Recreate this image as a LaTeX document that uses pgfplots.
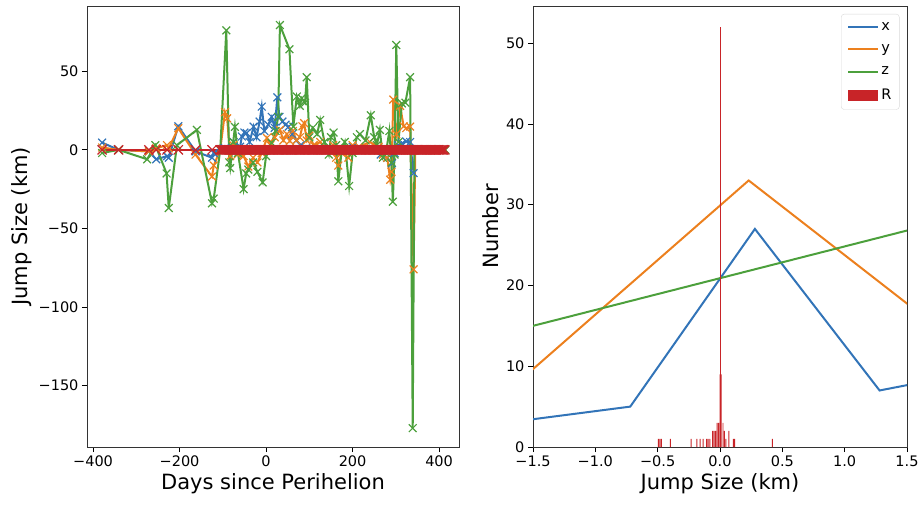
\documentclass[border=0pt]{standalone}
\usepackage{fontspec}
\setmainfont{DejaVu Sans}
\usepackage{pgfplots}
\pgfplotsset{compat=1.18}
\definecolor{cx}{RGB}{50,116,184}
\definecolor{cy}{RGB}{236,128,30}
\definecolor{cz}{RGB}{76,160,60}
\definecolor{cr}{RGB}{200,36,40}

\pgfplotsset{panel/.style={
  scale only axis, height=441pt,
  tick align=outside, tick pos=left, major tick length=5pt,
  every tick/.append style={line width=0.8pt, black},
  axis line style={line width=0.9pt, black!80},
  tick label style={font=\fontsize{14.5}{17}\selectfont},
  label style={font=\fontsize{21}{25}\selectfont},
  every axis plot/.append style={line width=2pt},
}}

\begin{document}
\begin{tikzpicture}
\useasboundingbox (-87pt,-60pt) rectangle (836pt,447pt);
% left panel: jumps against time
\begin{axis}[panel, width=372pt, at={(0,0)}, anchor=south west,
  xmin=-414, xmax=446, ymin=-189, ymax=91.5,
  xtick={-400,-200,0,200,400}, xticklabels={−400,−200,0,200,400},
  ytick={-150,-100,-50,0,50}, yticklabels={−150,−100,−50,0,50},
  xlabel={Days since Perihelion}, ylabel={Jump Size (km)},
  mark options={solid, line width=1.2pt}]
\addplot[cx, mark=x, mark size=5.5pt] coordinates {
 (-379,4.6) (-341,0) (-271,-1) (-254,-6) (-229,-4) (-225,-5) (-203,15) (-163,-1)
 (-125,-5) (-121,-2) (-106,0) (-95,1) (-85,0) (-75,5) (-66,0) (-60,2) (-56,8.5)
 (-50,11) (-45,10.6) (-38,5) (-29,14.8) (-22,8) (-15,18) (-10,27.5) (-4,12) (5,16)
 (13,21) (20,14) (26,33.4) (31,21) (38,18) (45,16) (52,14.8) (60,10) (70,6) (80,3)
 (92,1) (105,0) (150,0) (200,2) (240,0) (265,-3) (280,-5) (291,-8.5) (297,-2)
 (305,3) (314,4) (324,5.3) (333,5) (341,-14.8) (345,0) (414,0)};
\addplot[cy, mark=x, mark size=5.5pt] coordinates {
 (-379,1.5) (-341,0) (-271,-1) (-254,1) (-229,3) (-225,1) (-203,13.8) (-163,-3)
 (-125,-17) (-121,-10) (-106,0) (-95,24) (-90,20) (-83,-4) (-76,3) (-66,-3) (-52,-4)
 (-41,-10.6) (-30,-5) (-20,-8) (-10,-2) (2,7.6) (10,3) (20,8) (32,12.7) (40,6)
 (48,10) (55,5.7) (62,12) (70,6) (78,8) (84,15) (88,17) (94,6) (100,9) (110,3)
 (125,5) (140,0) (155,3) (162,-5) (167,-10) (175,-2) (190,-5) (200,3) (215,2)
 (240,5) (260,2) (270,-3) (280,-5) (287,-19) (290,-14) (294,32) (301,10) (310,28)
 (318,15) (324,13.8) (333,14.8) (341,-76) (345,0) (414,0)};
\addplot[cz, mark=x, mark size=5.5pt] coordinates {
 (-379,-2) (-341,0) (-275,-6) (-256,3) (-230,-15) (-225,-37) (-206,3) (-160,12.7)
 (-125,-34) (-121,-31) (-106,0) (-92,76) (-85,-8) (-83,-11.6) (-76,5) (-72,14.6)
 (-65,-2) (-52,-25) (-46,-15) (-41,-12.5) (-30,-8) (-20,-14) (-8,-20.7) (0,-4)
 (13,4.4) (22,12) (28,21) (32,79.4) (54,64) (63,14.8) (71,33.9) (78,28) (82.5,32.8)
 (90,30) (94,46.2) (100,8) (108,14) (118,10) (125,19) (135,5) (145,-3) (150,8)
 (156,11) (162,3) (167,-20) (175,0) (182,5) (192,-23) (200,-2) (210,8) (217,10)
 (230,6) (242,22) (250,8) (256,3) (263,12.7) (270,-5) (277,-2) (285,12) (290,-8)
 (293,-33) (297,-3) (301,66.7) (306,5) (314,29.6) (322,30) (333,46.2) (339,-177)
 (343,0) (414,0)};
\addplot[cr, mark=x, mark size=6.5pt] coordinates {
 (-379,0) (-341,0) (-271,0) (-254,0) (-229,0) (-203,0) (-163,0) (-125,0)
 (-106,0) (-103,0) (-100,0) (-97,0) (-94,0) (-91,0) (-88,0) (-85,0) (-82,0) (-79,0)
 (-76,0) (-73,0) (-70,0) (-67,0) (-64,0) (-61,0) (-58,0) (-55,0) (-52,0) (-49,0)
 (-46,0) (-43,0) (-40,0) (-37,0) (-34,0) (-31,0) (-28,0) (-25,0) (-22,0) (-19,0)
 (-16,0) (-13,0) (-10,0) (-7,0) (-4,0) (-1,0) (2,0) (5,0) (8,0) (11,0) (14,0)
 (17,0) (20,0) (23,0) (26,0) (29,0) (32,0) (35,0) (38,0) (41,0) (44,0) (47,0)
 (50,0) (53,0) (56,0) (59,0) (62,0) (65,0) (68,0) (71,0) (74,0) (77,0) (80,0)
 (83,0) (86,0) (89,0) (92,0) (95,0) (98,0) (101,0) (104,0) (107,0) (110,0) (113,0)
 (116,0) (119,0) (122,0) (125,0) (128,0) (131,0) (134,0) (137,0) (140,0) (143,0)
 (146,0) (149,0) (152,0) (155,0) (158,0) (161,0) (164,0) (167,0) (170,0) (173,0)
 (176,0) (179,0) (182,0) (185,0) (188,0) (191,0) (194,0) (197,0) (200,0) (203,0)
 (206,0) (209,0) (212,0) (215,0) (218,0) (221,0) (224,0) (227,0) (230,0) (233,0)
 (236,0) (239,0) (242,0) (245,0) (248,0) (251,0) (254,0) (257,0) (260,0) (263,0)
 (266,0) (269,0) (272,0) (275,0) (278,0) (281,0) (284,0) (287,0) (290,0) (293,0)
 (296,0) (299,0) (302,0) (305,0) (308,0) (311,0) (314,0) (317,0) (320,0) (323,0)
 (326,0) (329,0) (332,0) (335,0) (338,0) (341,0) (344,0) (347,0) (350,0) (353,0)
 (356,0) (359,0) (362,0) (365,0) (368,0) (371,0) (374,0) (377,0) (380,0) (383,0)
 (386,0) (389,0) (392,0) (395,0) (398,0) (401,0) (404,0) (407,0) (410,0) (413,0)};
\end{axis}
% right panel: histograms of jump sizes
\begin{axis}[panel, width=374pt, at={(446pt,0)}, anchor=south west,
  xmin=-1.5, xmax=1.5, ymin=0, ymax=54.6,
  xtick={-1.5,-1,-0.5,0,0.5,1,1.5},
  xticklabels={−1.5,−1.0,−0.5,0.0,0.5,1.0,1.5},
  ytick={0,10,20,30,40,50}, yticklabels={0,10,20,30,40,50},
  xlabel={Jump Size (km)}, ylabel={Number},
  legend entries={x,y,z,R},
  legend cell align=left,
  legend image code/.code={\path[draw=none, fill=none] (0pt,-5.5pt) rectangle (30pt,5.5pt);
    \draw[#1, sharp corners] (0pt,0pt) -- (30pt,0pt);},
  legend style={at={(0.98,0.982)}, anchor=north east, draw=black!15,
    rounded corners=3pt, font=\fontsize{14.5}{17}\selectfont,
    row sep=9pt, inner xsep=6pt, inner ysep=6pt}]
\addplot[cx] coordinates {(-1.72,3) (-0.72,5) (0.28,27) (1.28,7) (2.28,10)};
\addplot[cy] coordinates {(-1.77,6) (0.23,33) (2.23,9)};
\addplot[cz] coordinates {(-1.5,15) (1.5,26.8)};
\addplot[ybar, bar width=0.008, bar shift=0pt, fill=cr, draw=none,
  legend image code/.code={\fill[cr, sharp corners] (0pt,-5.5pt) rectangle (30pt,5.5pt);}]
 coordinates {
 (-0.495,1) (-0.483,1) (-0.471,1) (-0.398,1) (-0.232,1) (-0.185,1) (-0.160,1)
 (-0.135,1) (-0.108,1) (-0.096,1) (-0.082,1) (-0.060,2) (-0.048,2) (-0.036,2)
 (-0.024,3) (-0.012,3) (0.000,9) (0.008,9) (0.024,3) (0.036,2) (0.048,1)
 (0.072,2) (0.108,1) (0.118,1) (0.420,1)};
\addplot[ybar, bar width=0.006, bar shift=0pt, fill=cr, draw=none, forget plot]
 coordinates {(0.002,52)};
\end{axis}
\end{tikzpicture}
\end{document}
